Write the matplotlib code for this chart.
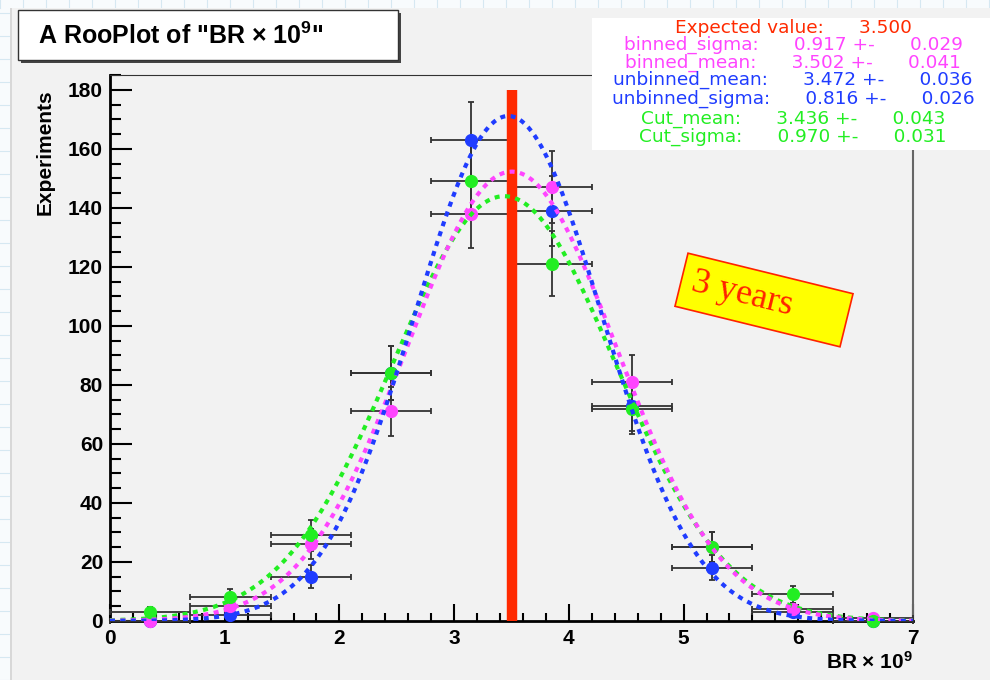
import numpy as np
import matplotlib
matplotlib.use("Agg")
import matplotlib.pyplot as plt
from matplotlib.patches import Rectangle
from matplotlib.lines import Line2D
from matplotlib.ticker import MultipleLocator

plt.rcParams['font.family'] = ['Liberation Sans', 'DejaVu Sans']
plt.rcParams['mathtext.fontset'] = 'custom'
plt.rcParams['mathtext.rm'] = 'Liberation Sans:bold'
plt.rcParams['mathtext.bf'] = 'Liberation Sans:bold'
plt.rcParams['mathtext.it'] = 'Liberation Sans:bold'

# toy experiments: 10 bins of BR x 1e9 between 0 and 7
bin_centers = [0.35, 1.05, 1.75, 2.45, 3.15, 3.85, 4.55, 5.25, 5.95, 6.65]
bin_halfwidth = 0.35
unbinned_counts = [0, 2, 15, 84, 163, 139, 73, 18, 3, 0]
binned_counts = [0, 5, 26, 71, 138, 147, 81, 25, 4, 1]
cut_counts = [3, 8, 29, 84, 149, 121, 72, 25, 9, 0]

n_experiments = 500
expected_value = 3.500
# fit results (mean, sigma) shown in the stats box
binned_mean, binned_mean_err = 3.502, 0.041
binned_sigma, binned_sigma_err = 0.917, 0.029
unbinned_mean, unbinned_mean_err = 3.472, 0.036
unbinned_sigma, unbinned_sigma_err = 0.816, 0.026
cut_mean, cut_mean_err = 3.436, 0.043
cut_sigma, cut_sigma_err = 0.970, 0.031

c_blue = '#1f3cff'
c_mag = '#ff44ff'
c_green = '#22ee22'
c_red = '#ff2a00'

W, H = 990, 680
fig = plt.figure(figsize=(9.9, 6.8), dpi=100)
fig.patch.set_facecolor('#f8fbfd')

# faint grid paper behind the canvas
for k in range(0, H, 23):
    fig.add_artist(Line2D([0, 12 / W], [k / H, k / H], color='#d6e8f2', lw=0.8, zorder=-6))
for k in range(0, W, 23):
    fig.add_artist(Line2D([k / W, k / W], [1 - 8 / H, 1], color='#d6e8f2', lw=0.8, zorder=-6))
fig.add_artist(Rectangle((10 / W, 0), 3 / W, 1 - 8 / H, transform=fig.transFigure,
                         facecolor='#d8d8d8', edgecolor='none', zorder=-5))
fig.add_artist(Rectangle((12 / W, 0), 1, 1 - 8 / H, transform=fig.transFigure,
                         facecolor='#f2f2f2', edgecolor='none', zorder=-5))

ax = fig.add_axes([110 / W, 59 / H, 803 / W, 546 / H])
ax.set_facecolor('#f2f2f2')

x = np.array(bin_centers)
xerr = bin_halfwidth
for counts, col in [(unbinned_counts, c_blue), (binned_counts, c_mag), (cut_counts, c_green)]:
    yv = np.array(counts)
    ax.errorbar(x, yv, xerr=xerr, yerr=np.sqrt(yv), fmt='o', color=col, ms=8.5,
                mec=col, ecolor='#333333', elinewidth=1.3, capsize=2.5, capthick=1.3,
                zorder=3, clip_on=False)

ax.plot([expected_value, expected_value], [0, 180], color=c_red, lw=7.5,
        solid_capstyle='butt', zorder=4)

xs = np.linspace(0, 7, 500)
for mu, sig, col in [(cut_mean, cut_sigma, c_green), (binned_mean, binned_sigma, c_mag),
                     (unbinned_mean, unbinned_sigma, c_blue)]:
    norm = n_experiments * 2 * bin_halfwidth / (sig * np.sqrt(2 * np.pi))
    ax.plot(xs, norm * np.exp(-(xs - mu) ** 2 / (2 * sig ** 2)), color=col, lw=3,
            linestyle=(0, (1.2, 1.3)), dash_capstyle='butt', zorder=5)

ax.set_xlim(0, 7)
ax.set_ylim(0, 185)
ax.xaxis.set_major_locator(MultipleLocator(1))
ax.xaxis.set_minor_locator(MultipleLocator(0.2))
ax.yaxis.set_major_locator(MultipleLocator(20))
ax.yaxis.set_minor_locator(MultipleLocator(5))
ax.tick_params(axis='x', which='major', direction='in', length=12, width=1.5, pad=6,
               labelsize=15)
ax.tick_params(axis='x', which='minor', direction='in', length=6, width=1.5)
ax.tick_params(axis='y', which='major', direction='in', length=16, width=1.5, pad=5,
               labelsize=15)
ax.tick_params(axis='y', which='minor', direction='in', length=8, width=1.5)
for lab in ax.get_xticklabels() + ax.get_yticklabels():
    lab.set_fontweight('bold')
ax.spines['left'].set_linewidth(2)
ax.spines['bottom'].set_linewidth(2)
ax.spines['top'].set_color('#333333')
ax.spines['right'].set_color('#666666')
ax.spines['right'].set_linewidth(1.5)

fig.text(45 / W, 1 - 152 / H, 'Experiments', rotation=90, ha='center', va='center',
         fontsize=15, fontweight='bold')
fig.text(913 / W, 1 - 662 / H, 'BR × 10$^{9}$', ha='right', va='center',
         fontsize=15, fontweight='bold')

# title box with shadow
fig.add_artist(Rectangle((21 / W, 1 - 63 / H), 380 / W, 50 / H, transform=fig.transFigure,
                         facecolor='#444444', edgecolor='none'))
fig.add_artist(Rectangle((18 / W, 1 - 60 / H), 380 / W, 50 / H, transform=fig.transFigure,
                         facecolor='white', edgecolor='#333333', lw=1))
fig.text(38 / W, 1 - 36 / H, 'A RooPlot of "BR × 10$^{9}$"', ha='left', va='center',
         fontsize=18, fontweight='bold')

# stats box
fig.add_artist(Rectangle((592 / W, 1 - 150 / H), 400 / W, 132 / H, transform=fig.transFigure,
                         facecolor='white', edgecolor='none', zorder=6))
stats_lines = [
    ('Expected value:', '%.3f' % expected_value, '', c_red),
    ('binned_sigma:', '%.3f +-' % binned_sigma, '%.3f' % binned_sigma_err, c_mag),
    ('binned_mean:', '%.3f +-' % binned_mean, '%.3f' % binned_mean_err, c_mag),
    ('unbinned_mean:', '%.3f +-' % unbinned_mean, '%.3f' % unbinned_mean_err, c_blue),
    ('unbinned_sigma:', '%.3f +-' % unbinned_sigma, '%.3f' % unbinned_sigma_err, c_blue),
    ('Cut_mean:', '%.3f +-' % cut_mean, '%.3f' % cut_mean_err, c_green),
    ('Cut_sigma:', '%.3f +-' % cut_sigma, '%.3f' % cut_sigma_err, c_green),
]
ypix = [28, 45, 63, 80, 99, 119, 137]
for (lab, val, err, col), yp in zip(stats_lines, ypix):
    s = lab + '      ' + val + ('      ' + err if err else '')
    fig.text(793 / W, 1 - yp / H, s, ha='center', va='center', fontsize=13.3,
             color=col, family='DejaVu Sans', zorder=7)

# rotated "3 years" label
fig.text(764 / W, 1 - 300 / H, '3 years     ', rotation=-13.8, rotation_mode='anchor',
         ha='center', va='center', fontsize=26, color='#ff2200', family='Liberation Serif',
         bbox=dict(boxstyle='square,pad=0.3', facecolor='#ffff00', edgecolor='#ff2200', lw=1.2))

fig.savefig('out.png', dpi=100)
